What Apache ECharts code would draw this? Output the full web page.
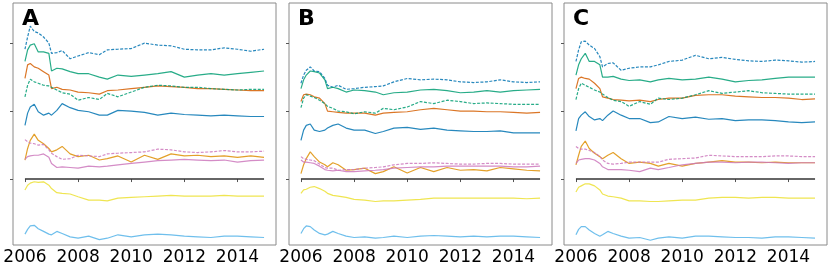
<!DOCTYPE html>
<html><head><meta charset="utf-8">
<script src="https://cdn.jsdelivr.net/npm/echarts@6/dist/echarts.min.js"></script>
<style>html,body{margin:0;padding:0;background:#fff}#c{width:830px;height:270px}</style>
</head><body><div id="c"></div>
<script>
const YEARS = [2006.0, 2006.1, 2006.2, 2006.35, 2006.5, 2006.7, 2006.9, 2007.0, 2007.2, 2007.4, 2007.7, 2008.0, 2008.4, 2008.8, 2009.1, 2009.5, 2010.0, 2010.5, 2011.0, 2011.5, 2012.0, 2012.5, 2013.0, 2013.5, 2014.0, 2014.5, 2015.0];
const X_TICKS = [2006, 2008, 2010, 2012, 2014];
const Y_TICKS = [0, 1, 2];
const PANELS = ['A', 'B', 'C'];

// Panel A
const A_blueDash = [1.91,2.09,2.25,2.17,2.15,2.09,2.00,1.85,1.86,1.89,1.77,1.81,1.86,1.83,1.90,1.91,1.92,2.00,1.97,1.96,1.91,1.90,1.90,1.93,1.91,1.88,1.91];
const A_green = [1.73,1.90,1.97,1.99,1.87,1.87,1.85,1.59,1.63,1.62,1.58,1.55,1.55,1.50,1.47,1.53,1.51,1.53,1.55,1.58,1.50,1.53,1.55,1.53,1.55,1.57,1.59];
const A_verm = [1.48,1.68,1.70,1.65,1.63,1.58,1.53,1.33,1.35,1.32,1.31,1.28,1.27,1.25,1.30,1.31,1.33,1.35,1.37,1.36,1.35,1.33,1.33,1.32,1.31,1.30,1.30];
const A_greenDash = [1.21,1.38,1.47,1.43,1.41,1.38,1.37,1.35,1.31,1.27,1.25,1.16,1.20,1.17,1.26,1.21,1.28,1.35,1.38,1.37,1.35,1.35,1.33,1.32,1.31,1.32,1.32];
const A_blue = [0.79,0.97,1.06,1.10,0.99,0.94,0.97,0.94,1.01,1.11,1.05,1.01,0.99,0.94,0.94,1.01,1.00,0.98,0.94,0.97,0.95,0.94,0.93,0.94,0.93,0.92,0.92];
const A_orange = [0.28,0.45,0.57,0.66,0.57,0.52,0.45,0.40,0.43,0.48,0.37,0.33,0.35,0.28,0.30,0.34,0.25,0.35,0.29,0.37,0.34,0.35,0.33,0.34,0.32,0.34,0.32];
const A_pink = [0.29,0.33,0.34,0.35,0.35,0.37,0.32,0.23,0.17,0.18,0.17,0.16,0.19,0.18,0.19,0.21,0.23,0.25,0.27,0.28,0.29,0.28,0.27,0.28,0.25,0.27,0.28];
const A_pinkDash = [0.58,0.55,0.53,0.52,0.50,0.51,0.43,0.38,0.33,0.29,0.30,0.35,0.34,0.33,0.37,0.38,0.39,0.40,0.44,0.43,0.40,0.39,0.40,0.42,0.40,0.40,0.41];
const A_yellow = [-0.16,-0.09,-0.06,-0.04,-0.05,-0.04,-0.09,-0.14,-0.20,-0.21,-0.22,-0.26,-0.31,-0.31,-0.32,-0.28,-0.27,-0.26,-0.25,-0.24,-0.25,-0.25,-0.25,-0.24,-0.25,-0.25,-0.25];
const A_lightBlue = [-0.81,-0.74,-0.69,-0.68,-0.73,-0.77,-0.81,-0.82,-0.77,-0.80,-0.85,-0.87,-0.84,-0.89,-0.87,-0.82,-0.85,-0.82,-0.81,-0.82,-0.84,-0.85,-0.86,-0.84,-0.84,-0.85,-0.86];

// Panel B
const B_blueDash = [1.41,1.53,1.60,1.65,1.59,1.58,1.48,1.38,1.35,1.38,1.32,1.33,1.35,1.36,1.37,1.43,1.48,1.46,1.47,1.46,1.43,1.42,1.43,1.46,1.43,1.42,1.43];
const B_green = [1.33,1.46,1.53,1.59,1.58,1.56,1.46,1.33,1.35,1.33,1.28,1.31,1.30,1.28,1.24,1.27,1.28,1.31,1.32,1.30,1.27,1.28,1.30,1.28,1.30,1.31,1.32];
const B_verm = [1.14,1.24,1.25,1.24,1.21,1.19,1.11,1.00,0.99,0.98,0.97,0.97,0.97,0.94,0.97,0.98,0.99,1.02,1.04,1.02,1.00,1.00,0.99,0.99,0.98,0.97,0.98];
const B_greenDash = [1.05,1.19,1.24,1.22,1.20,1.16,1.11,1.07,1.04,1.00,0.99,0.96,0.99,0.97,1.04,1.02,1.06,1.14,1.11,1.16,1.14,1.11,1.12,1.11,1.10,1.10,1.10];
const B_blue = [0.57,0.72,0.79,0.81,0.72,0.70,0.72,0.75,0.79,0.81,0.75,0.72,0.72,0.67,0.70,0.75,0.76,0.73,0.75,0.72,0.71,0.70,0.70,0.71,0.68,0.68,0.68];
const B_orange = [0.08,0.21,0.30,0.40,0.33,0.25,0.21,0.18,0.24,0.21,0.13,0.14,0.16,0.08,0.11,0.18,0.09,0.17,0.11,0.17,0.13,0.14,0.12,0.17,0.15,0.13,0.12];
const B_pink = [0.28,0.25,0.25,0.24,0.23,0.19,0.14,0.13,0.12,0.13,0.11,0.11,0.12,0.13,0.14,0.16,0.17,0.18,0.18,0.19,0.19,0.19,0.19,0.19,0.18,0.18,0.19];
const B_pinkDash = [0.33,0.30,0.29,0.28,0.27,0.22,0.17,0.16,0.16,0.13,0.14,0.14,0.16,0.17,0.18,0.21,0.23,0.23,0.24,0.23,0.22,0.22,0.23,0.23,0.22,0.22,0.22];
const B_yellow = [-0.21,-0.16,-0.15,-0.12,-0.11,-0.14,-0.18,-0.21,-0.24,-0.25,-0.27,-0.30,-0.31,-0.33,-0.32,-0.32,-0.31,-0.30,-0.28,-0.28,-0.28,-0.28,-0.28,-0.28,-0.28,-0.29,-0.28];
const B_lightBlue = [-0.80,-0.73,-0.69,-0.70,-0.75,-0.80,-0.82,-0.81,-0.77,-0.80,-0.84,-0.86,-0.85,-0.87,-0.86,-0.84,-0.86,-0.84,-0.83,-0.84,-0.85,-0.84,-0.85,-0.84,-0.84,-0.85,-0.86];

// Panel C
const C_blueDash = [1.73,1.90,2.02,2.03,1.97,1.92,1.80,1.65,1.70,1.71,1.60,1.63,1.65,1.65,1.68,1.73,1.75,1.82,1.77,1.79,1.76,1.74,1.73,1.75,1.74,1.72,1.73];
const C_green = [1.53,1.68,1.77,1.85,1.73,1.73,1.68,1.50,1.50,1.51,1.47,1.45,1.46,1.43,1.46,1.48,1.46,1.47,1.50,1.47,1.43,1.45,1.46,1.48,1.50,1.50,1.50];
const C_verm = [1.33,1.48,1.50,1.48,1.47,1.41,1.33,1.21,1.19,1.17,1.16,1.15,1.16,1.14,1.17,1.19,1.19,1.23,1.24,1.24,1.22,1.21,1.20,1.20,1.19,1.17,1.18];
const C_greenDash = [1.17,1.33,1.41,1.38,1.35,1.31,1.28,1.25,1.20,1.16,1.14,1.07,1.14,1.10,1.19,1.17,1.19,1.24,1.30,1.26,1.28,1.30,1.27,1.26,1.25,1.25,1.25];
const C_blue = [0.71,0.89,0.94,0.99,0.92,0.87,0.89,0.86,0.94,1.00,0.94,0.89,0.89,0.83,0.84,0.92,0.89,0.91,0.88,0.89,0.86,0.87,0.87,0.86,0.84,0.83,0.84];
const C_orange = [0.21,0.35,0.48,0.56,0.45,0.38,0.33,0.30,0.35,0.39,0.30,0.23,0.25,0.23,0.19,0.23,0.19,0.23,0.25,0.27,0.25,0.25,0.24,0.25,0.24,0.24,0.24];
const C_pink = [0.23,0.28,0.29,0.30,0.30,0.28,0.23,0.18,0.14,0.14,0.14,0.13,0.11,0.16,0.14,0.17,0.21,0.23,0.25,0.25,0.24,0.25,0.25,0.24,0.23,0.24,0.24];
const C_pinkDash = [0.48,0.45,0.44,0.44,0.42,0.39,0.33,0.28,0.23,0.22,0.23,0.25,0.25,0.25,0.25,0.29,0.30,0.31,0.35,0.34,0.33,0.33,0.33,0.34,0.34,0.33,0.33];
const C_yellow = [-0.19,-0.12,-0.10,-0.07,-0.07,-0.10,-0.16,-0.22,-0.25,-0.26,-0.28,-0.32,-0.32,-0.33,-0.33,-0.32,-0.31,-0.31,-0.28,-0.27,-0.27,-0.28,-0.27,-0.27,-0.28,-0.28,-0.28];
const C_lightBlue = [-0.82,-0.74,-0.70,-0.70,-0.75,-0.80,-0.84,-0.82,-0.77,-0.80,-0.84,-0.87,-0.86,-0.90,-0.87,-0.85,-0.87,-0.84,-0.84,-0.85,-0.86,-0.86,-0.87,-0.85,-0.85,-0.86,-0.87];

const ZERO_LINE = [[2006, 0], [2015, 0]];

const DATA = {
  A: [A_blueDash, A_green, A_verm, A_greenDash, A_blue, A_orange, A_pink, A_pinkDash, A_yellow, A_lightBlue],
  B: [B_blueDash, B_green, B_verm, B_greenDash, B_blue, B_orange, B_pink, B_pinkDash, B_yellow, B_lightBlue],
  C: [C_blueDash, C_green, C_verm, C_greenDash, C_blue, C_orange, C_pink, C_pinkDash, C_yellow, C_lightBlue]
};
const STYLES = [
  {c:'#0173B2', d:[3,1.5]}, {c:'#029E73', d:null}, {c:'#D55E00', d:null}, {c:'#029E73', d:[3,1.5]},
  {c:'#0173B2', d:null}, {c:'#DE8F05', d:null}, {c:'#CC78BC', d:null}, {c:'#CC78BC', d:[3,1.5]},
  {c:'#ECE133', d:null}, {c:'#56B4E9', d:null}
];

const GRID_LEFT = [13, 289, 564];
const grids = [], xAxes = [], yAxes = [], series = [], graphics = [];
PANELS.forEach((p, i) => {
  grids.push({left: GRID_LEFT[i], top: 3, width: 263, height: 242, show: true, borderColor: '#8a8a8a', borderWidth: 1, backgroundColor: 'transparent'});
  xAxes.push({type: 'value', gridIndex: i, min: 2005.55, max: 2015.45,
    axisLine: {show: false}, splitLine: {show: false},
    axisTick: {show: true, customValues: X_TICKS, length: 3, lineStyle: {color: '#555'}},
    axisLabel: {show: true, customValues: X_TICKS, fontSize: 17, fontFamily: 'DejaVu Sans', color: '#000', margin: 4, formatter: v => String(Math.round(v))}
  });
  yAxes.push({type: 'value', gridIndex: i, min: -0.97, max: 2.59,
    axisLine: {show: false}, splitLine: {show: false},
    axisTick: {show: true, customValues: Y_TICKS, length: 3, lineStyle: {color: '#555'}},
    axisLabel: {show: false}
  });
  DATA[p].forEach((vals, k) => {
    const st = STYLES[k];
    series.push({type: 'line', xAxisIndex: i, yAxisIndex: i, symbol: 'none', silent: true, animation: false,
      data: YEARS.map((t, j) => [t, vals[j]]),
      lineStyle: {color: st.c, width: 1.2, opacity: 0.85, type: st.d ? st.d : 'solid'}
    });
  });
  series.push({type: 'line', xAxisIndex: i, yAxisIndex: i, symbol: 'none', silent: true, animation: false,
    data: ZERO_LINE, lineStyle: {color: '#333', width: 1.5}});
  graphics.push({type: 'text', left: GRID_LEFT[i] + 9, top: 8, style: {text: p, font: 'bold 22px "DejaVu Sans"', fill: '#000'}});
});

const chart = echarts.init(document.getElementById('c'), null, {renderer: 'canvas'});
chart.setOption({animation: false, grid: grids, xAxis: xAxes, yAxis: yAxes, series: series, graphic: graphics});
</script></body></html>
